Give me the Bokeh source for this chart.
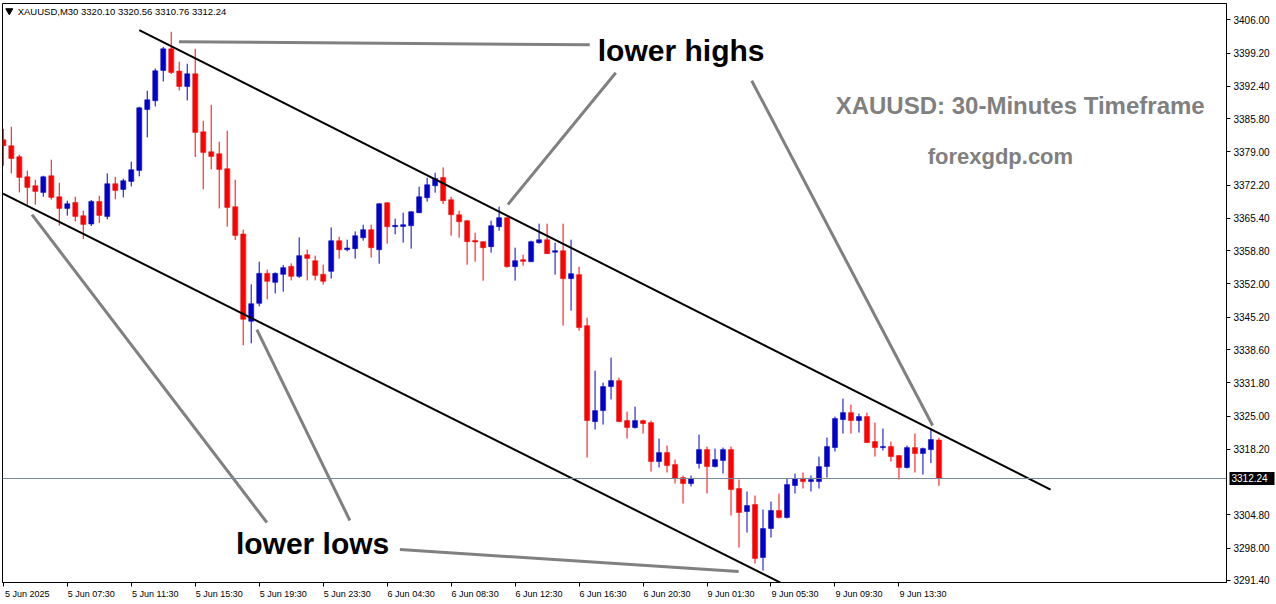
from bokeh.plotting import figure
from bokeh.models import ColumnDataSource, FixedTicker, Span, Label, PrintfTickFormatter, LinearAxis
from bokeh.embed import file_html
from bokeh.resources import INLINE

# ---------------- data (XAUUSD M30) ----------------
opens = [3381.48, 3380.26, 3378.01, 3373.92, 3372.09, 3370.72, 3374.13, 3369.84, 3367.45, 3368.67,
         3365.96, 3364.26, 3368.88, 3365.81, 3372.50, 3371.33, 3372.97, 3375.21, 3387.67, 3389.45,
         3395.64, 3400.07, 3395.52, 3392.37, 3394.97, 3383.12, 3379.03, 3378.62, 3375.56, 3367.80,
         3362.22, 3344.36, 3348.04, 3354.17, 3352.33, 3353.97, 3355.60, 3353.56, 3357.99, 3356.76,
         3353.97, 3354.58, 3360.85, 3359.01, 3359.22, 3361.46, 3363.10, 3359.01, 3368.61, 3363.71,
         3363.77, 3363.92, 3366.57, 3369.64, 3372.09, 3373.78, 3369.23, 3366.16, 3364.94, 3360.91,
         3360.65, 3359.63, 3363.71, 3365.55, 3355.54, 3356.97, 3356.56, 3360.44, 3361.05, 3358.50,
         3358.81, 3353.09, 3353.91, 3343.48, 3323.87, 3326.12, 3331.03, 3332.25, 3324.08, 3322.65,
         3324.08, 3323.67, 3315.71, 3317.54, 3315.09, 3312.43, 3311.21, 3315.29, 3318.15, 3314.68,
         3315.91, 3318.15, 3310.19, 3305.49, 3306.92, 3296.09, 3302.02, 3305.69, 3304.26, 3310.80,
         3312.23, 3311.62, 3311.62, 3314.68, 3318.56, 3324.28, 3325.71, 3324.08, 3324.90, 3319.79,
         3318.56, 3318.77, 3316.93, 3314.48, 3318.56, 3317.34, 3318.15, 3320.10]
highs = [3383.73, 3384.14, 3378.42, 3375.15, 3373.31, 3374.13, 3377.40, 3372.70, 3369.02, 3369.84,
         3366.98, 3369.17, 3370.04, 3374.60, 3373.92, 3373.52, 3376.99, 3388.23, 3391.49, 3396.05,
         3400.48, 3403.55, 3397.42, 3397.01, 3400.07, 3385.37, 3388.63, 3381.08, 3383.32, 3373.31,
         3363.10, 3351.92, 3356.56, 3354.93, 3354.37, 3355.89, 3356.21, 3361.53, 3359.01, 3357.79,
         3355.95, 3363.57, 3361.67, 3361.06, 3362.75, 3364.12, 3364.12, 3368.51, 3368.71, 3365.35,
         3366.57, 3366.87, 3371.88, 3373.72, 3374.74, 3375.83, 3369.84, 3366.98, 3365.04, 3362.48,
         3360.75, 3364.94, 3367.80, 3365.65, 3359.42, 3357.99, 3360.85, 3364.32, 3364.32, 3360.44,
         3364.32, 3361.05, 3355.54, 3345.12, 3334.29, 3331.84, 3336.95, 3332.86, 3325.92, 3326.94,
         3324.28, 3324.08, 3320.40, 3318.97, 3316.11, 3312.84, 3312.84, 3321.22, 3318.77, 3318.36,
         3318.56, 3318.77, 3312.03, 3309.57, 3308.76, 3305.90, 3307.53, 3309.17, 3312.23, 3313.25,
         3313.45, 3312.84, 3316.72, 3320.61, 3324.90, 3328.57, 3327.35, 3325.51, 3325.71, 3323.67,
         3322.45, 3319.79, 3317.03, 3318.97, 3321.42, 3318.56, 3322.45, 3320.56]
lows = [3376.17, 3374.60, 3370.72, 3368.21, 3368.21, 3369.84, 3369.23, 3363.92, 3365.96, 3364.79,
        3361.20, 3363.85, 3364.47, 3365.20, 3369.29, 3369.70, 3371.94, 3373.99, 3381.95, 3388.29,
        3393.39, 3394.91, 3391.55, 3389.51, 3377.95, 3371.33, 3375.42, 3367.45, 3363.71, 3360.99,
        3339.46, 3339.87, 3347.43, 3348.86, 3350.08, 3350.43, 3352.74, 3353.23, 3352.74, 3352.74,
        3351.86, 3353.09, 3357.17, 3358.67, 3357.17, 3360.85, 3357.38, 3356.15, 3360.24, 3362.14,
        3360.44, 3359.22, 3366.47, 3368.82, 3370.66, 3368.35, 3361.87, 3361.46, 3355.95, 3356.56,
        3352.68, 3358.40, 3362.89, 3355.33, 3352.68, 3355.74, 3356.46, 3360.24, 3358.19, 3353.91,
        3343.48, 3346.55, 3342.46, 3316.52, 3322.24, 3323.26, 3328.37, 3323.77, 3320.41, 3322.44,
        3321.42, 3313.66, 3314.48, 3313.46, 3311.21, 3307.12, 3310.60, 3314.27, 3309.17, 3314.48,
        3313.25, 3304.67, 3298.13, 3301.20, 3294.87, 3293.43, 3300.18, 3304.06, 3304.06, 3309.17,
        3310.19, 3309.57, 3310.19, 3312.43, 3317.75, 3321.42, 3321.42, 3321.63, 3319.48, 3316.72,
        3317.95, 3315.70, 3312.03, 3314.27, 3313.46, 3313.05, 3315.38, 3310.76]
closes = [3380.26, 3377.66, 3373.78, 3371.74, 3370.92, 3373.92, 3369.70, 3367.45, 3368.41, 3365.81,
          3364.18, 3368.88, 3366.02, 3372.50, 3371.13, 3373.11, 3375.36, 3388.02, 3389.66, 3395.58,
          3400.07, 3395.23, 3392.37, 3394.97, 3382.98, 3378.89, 3378.07, 3375.42, 3367.65, 3361.93,
          3344.77, 3347.98, 3354.17, 3352.54, 3354.17, 3355.34, 3353.56, 3357.79, 3357.23, 3353.76,
          3352.54, 3360.85, 3359.01, 3359.36, 3361.87, 3363.10, 3359.42, 3368.41, 3363.71, 3363.98,
          3364.12, 3366.77, 3369.84, 3372.29, 3373.58, 3369.02, 3366.16, 3364.73, 3360.65, 3360.58,
          3359.42, 3363.92, 3365.55, 3355.54, 3356.76, 3356.62, 3360.65, 3361.05, 3358.19, 3358.81,
          3353.09, 3354.11, 3343.08, 3324.08, 3326.12, 3331.03, 3332.25, 3323.87, 3322.65, 3324.08,
          3323.47, 3315.71, 3317.54, 3314.89, 3312.23, 3311.21, 3312.23, 3318.15, 3314.68, 3316.11,
          3318.15, 3309.98, 3305.28, 3306.71, 3295.89, 3302.02, 3305.69, 3304.26, 3311.00, 3312.23,
          3311.62, 3312.03, 3314.68, 3318.77, 3324.49, 3325.71, 3324.08, 3324.90, 3319.58, 3318.56,
          3318.77, 3316.72, 3314.48, 3318.56, 3317.34, 3318.36, 3320.21, 3312.24]

x_tick_bars = [0, 8, 16, 24, 32, 40, 48, 56, 64, 72, 80, 88, 96, 104, 112]
x_tick_labels = ["5 Jun 2025", "5 Jun 07:30", "5 Jun 11:30", "5 Jun 15:30", "5 Jun 19:30",
                 "5 Jun 23:30", "6 Jun 04:30", "6 Jun 08:30", "6 Jun 12:30", "6 Jun 16:30",
                 "6 Jun 20:30", "9 Jun 01:30", "9 Jun 05:30", "9 Jun 09:30", "9 Jun 13:30"]
y_ticks = [3406.00, 3399.20, 3392.40, 3385.80, 3379.00, 3372.20, 3365.40, 3358.80, 3352.00,
           3345.20, 3338.60, 3331.80, 3325.00, 3318.20, 3304.80, 3298.00, 3291.40]
last_price = 3312.24
header_text = "XAUUSD,M30  3320.10 3320.56 3310.76 3312.24"

# channel lines (bar index, price)
upper_channel_x = [17.0, 130.96]
upper_channel_y = [3403.89, 3309.98]
lower_channel_x = [-0.04, 97.5]
lower_channel_y = [3370.45, 3290.70]

# grey pointer lines (bar index, price)
pointer_xs = [[21.96, 73.34], [63.09, 76.59], [93.59, 116.21],
              [3.59, 32.96], [31.71, 43.34], [49.59, 91.96]]
pointer_ys = [[3401.50, 3400.89], [3368.21, 3395.17], [3393.54, 3323.06],
              [3366.16, 3303.24], [3342.67, 3303.65], [3297.72, 3293.23]]

# ---------------- figure ----------------
X0, X1 = -0.1, 152.96
Y0, Y1 = 3290.98, 3409.33
FRAME_W, FRAME_H = 1224, 579
LEFT_PAD, TOP_PAD = 2, 3

p = figure(frame_width=FRAME_W, frame_height=FRAME_H, x_range=(X0, X1), y_range=(Y0, Y1),
           y_axis_location="right", output_backend="svg", toolbar_location=None,
           min_border_left=LEFT_PAD, min_border_top=TOP_PAD, min_border_right=2,
           min_border_bottom=0,
           background_fill_color="white", border_fill_color="white")
p.outline_line_color = "black"
p.outline_line_width = 1
p.xgrid.visible = False
p.ygrid.visible = False

# y axis (right)
TICK_OUT, STANDOFF = 4, 3
ya = p.yaxis[0]
ya.ticker = FixedTicker(ticks=y_ticks)
ya.formatter = PrintfTickFormatter(format="%.2f")
ya.major_tick_out = TICK_OUT
ya.major_tick_in = 0
ya.minor_tick_out = 0
ya.minor_tick_in = 0
ya.major_label_standoff = STANDOFF
ya.major_label_text_font = "Liberation Sans"
ya.major_label_text_font_size = "10px"
ya.major_label_text_color = "black"
ya.axis_line_color = "black"
ya.major_tick_line_color = "black"

# current-price marker on the price scale: an outer axis whose single tick is
# drawn back inward over the label column as a black box, label in white
MAIN_AXIS_W = TICK_OUT + STANDOFF + 36   # approx width of the main price axis
pa = LinearAxis(ticker=FixedTicker(ticks=[last_price]),
                major_label_overrides={last_price: "%.2f   " % last_price},
                axis_line_color=None,
                major_tick_in=MAIN_AXIS_W, major_tick_out=2, minor_tick_in=0, minor_tick_out=0,
                major_tick_line_color="black", major_tick_line_width=13,
                major_tick_line_cap="butt",
                major_label_standoff=-MAIN_AXIS_W,
                major_label_text_font="Liberation Sans", major_label_text_font_size="10px",
                major_label_text_color="white")
p.add_layout(pa, "right")

# x axis: tick marks only
xa = p.xaxis[0]
xa.ticker = FixedTicker(ticks=x_tick_bars)
xa.major_tick_out = 4
xa.major_tick_in = 0
xa.minor_tick_out = 0
xa.minor_tick_in = 0
xa.major_label_standoff = 0
xa.major_label_text_font_size = "0px"
xa.major_label_overrides = {b: "" for b in x_tick_bars}
xa.axis_line_color = "black"
xa.major_tick_line_color = "black"

# x axis: labels (left edge of each label at its tick)
label_pos = [b + 3 for b in x_tick_bars]
xl = LinearAxis(ticker=FixedTicker(ticks=label_pos),
                major_label_overrides={lp: t for lp, t in zip(label_pos, x_tick_labels)},
                major_tick_out=0, major_tick_in=0, minor_tick_out=0, minor_tick_in=0,
                axis_line_color=None, major_label_standoff=2,
                major_label_text_font="Liberation Sans", major_label_text_font_size="9px",
                major_label_text_color="black")
p.add_layout(xl, "below")

# current price line
p.add_layout(Span(location=last_price, dimension="width", line_color="#778899", line_width=1))

# candles
bull = "#0000CC"
bear = "#FF0000"
idx = list(range(len(opens)))
tops, bots, cols = [], [], []
for o, c in zip(opens, closes):
    t, b = max(o, c), min(o, c)
    if t - b < 0.22:
        m = (t + b) / 2
        t, b = m + 0.11, m - 0.11
    tops.append(t)
    bots.append(b)
    cols.append(bull if c > o else bear)
src = ColumnDataSource(dict(x=idx, high=highs, low=lows, top=tops, bottom=bots, color=cols))
p.segment(x0="x", y0="high", x1="x", y1="low", color="color", line_width=1, source=src)
p.vbar(x="x", top="top", bottom="bottom", width=0.63, fill_color="color",
       line_color="color", line_width=0.5, source=src)

# channel lines
p.line(upper_channel_x, upper_channel_y, line_color="black", line_width=2)
p.line(lower_channel_x, lower_channel_y, line_color="black", line_width=2)

# pointer lines
p.multi_line(pointer_xs, pointer_ys, line_color="#808080", line_width=3)

# texts
p.add_layout(Label(x=74.34, y=3399.67, text="lower highs", text_font="Liberation Sans",
                   text_font_style="bold", text_font_size="30px", text_color="black",
                   text_baseline="alphabetic", text_align="left"))
p.add_layout(Label(x=29.09, y=3298.95, text="lower lows", text_font="Liberation Sans",
                   text_font_style="bold", text_font_size="30px", text_color="black",
                   text_baseline="alphabetic", text_align="left"))
p.add_layout(Label(x=104.09, y=3388.43, text="XAUUSD: 30-Minutes Timeframe",
                   text_font="Liberation Sans", text_font_style="bold", text_font_size="24px",
                   text_color="#808080", text_baseline="alphabetic", text_align="left"))
p.add_layout(Label(x=115.59, y=3378.02, text="forexgdp.com",
                   text_font="Liberation Sans", text_font_style="bold", text_font_size="22px",
                   text_color="#808080", text_baseline="alphabetic", text_align="left"))

# header
p.scatter(x=[0.75], y=[3407.85], marker="inverted_triangle", size=7, color="black")
p.add_layout(Label(x=1.8, y=3407.74, text=header_text, text_font="Liberation Sans",
                   text_font_size="9.5px", text_color="black", text_baseline="middle",
                   text_align="left"))

open("out.html", "w").write(file_html(p, INLINE))
